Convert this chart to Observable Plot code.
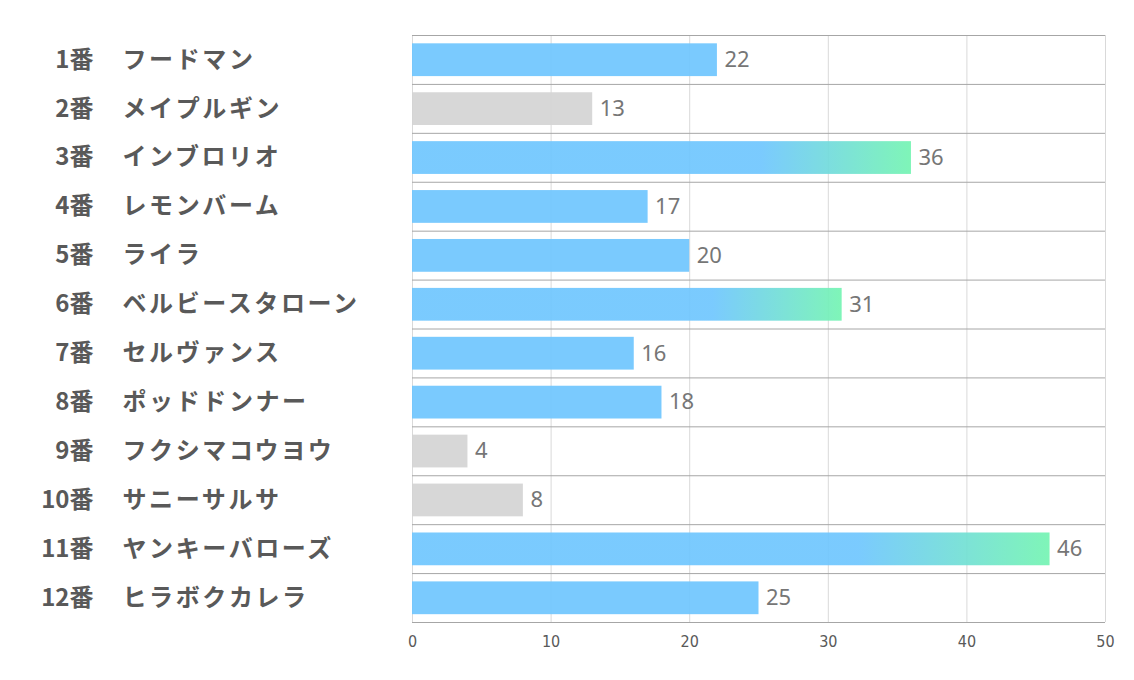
<!DOCTYPE html>
<html>
<head>
<meta charset="utf-8">
<script src="https://cdn.jsdelivr.net/npm/d3@7"></script>
<script src="https://cdn.jsdelivr.net/npm/@observablehq/plot@0.6"></script>
<style>
  html, body { margin: 0; padding: 0; background: #fff; }
  #chart svg { display: block; }
</style>
</head>
<body>
<div id="chart"></div>
<script>
const numbers = ["1番","2番","3番","4番","5番","6番","7番","8番","9番","10番","11番","12番"];
const names = ["フードマン","メイプルギン","インブロリオ","レモンバーム","ライラ","ベルビースタローン","セルヴァンス","ポッドドンナー","フクシマコウヨウ","サニーサルサ","ヤンキーバローズ","ヒラボクカレラ"];
const values = [22, 13, 36, 17, 20, 31, 16, 18, 4, 8, 46, 25];
const kinds = ["blue","gray","grad","blue","blue","grad","blue","blue","gray","gray","grad","blue"];
const xTicks = [0, 10, 20, 30, 40, 50];

const data = values.map((v, i) => ({i, num: numbers[i], name: names[i], value: v, kind: kinds[i]}));
const fillFor = {blue: "#6fc6fe", gray: "#d4d4d4", grad: "url(#barGrad)"};
const rows = d3.range(numbers.length + 1);

const chart = Plot.plot({
  width: 1134,
  height: 680,
  marginLeft: 412,
  marginRight: 29,
  marginTop: 35,
  marginBottom: 58,
  style: {fontFamily: "'Noto Sans CJK JP', 'Noto Sans', sans-serif", background: "#fff"},
  x: {type: "linear", domain: [0, 50], label: null, axis: null},
  y: {type: "linear", domain: [0, numbers.length], reverse: true, axis: null},
  marks: [
    Plot.ruleX(xTicks, {x: d => d, y1: 0, y2: numbers.length, stroke: "#d9d9d9", strokeOpacity: 1}),
    Plot.rectX(data, {
      x1: 0,
      x2: "value",
      y1: d => d.i + 0.17,
      y2: d => d.i + 0.84,
      fill: d => fillFor[d.kind],
      fillOpacity: 0.92
    }),
    Plot.ruleY(rows, {y: d => d, x1: 0, x2: 50, stroke: "#a6a6a6", strokeOpacity: 1}),
    Plot.text(data, {
      x: "value", y: d => d.i + 0.5, text: d => String(d.value),
      textAnchor: "start", dx: 7, fontSize: 22, fill: "#767676",
      fontFamily: "'Noto Sans', sans-serif"
    }),
    Plot.text(xTicks, {
      x: d => d, text: d => String(d), frameAnchor: "bottom", dy: 24,
      fontSize: 16, fill: "#595959",
      fontFamily: "'DejaVu Sans Condensed', 'Noto Sans', sans-serif"
    }),
    Plot.text(data, {
      y: d => d.i + 0.5, text: "num", frameAnchor: "left",
      textAnchor: "end", dx: -319, fontSize: 24, fontWeight: "bold", fill: "#595959"
    }),
    Plot.text(data, {
      y: d => d.i + 0.5, text: "name", frameAnchor: "left",
      textAnchor: "start", dx: -290, fontSize: 24, fontWeight: "bold", fill: "#595959"
    })
  ]
});

const svg = d3.select(chart);
const defs = svg.insert("defs", ":first-child");
const grad = defs.append("linearGradient").attr("id", "barGrad")
  .attr("x1", "0").attr("x2", "1").attr("y1", "0").attr("y2", "0");
grad.append("stop").attr("offset", "0.7").attr("stop-color", "#6fc6fe");
grad.append("stop").attr("offset", "1").attr("stop-color", "#74f4b2");

const textGroups = svg.selectAll('g[aria-label="text"]').nodes();
d3.select(textGroups[textGroups.length - 1]).style("letter-spacing", "2.6px");

document.getElementById("chart").appendChild(chart);
</script>
</body>
</html>
